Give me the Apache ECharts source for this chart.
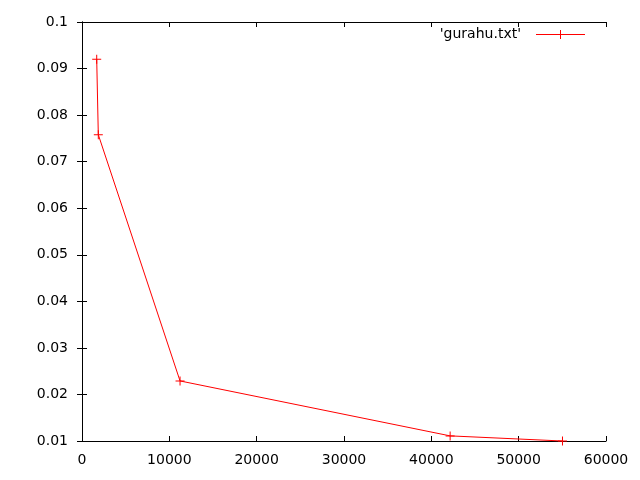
<!DOCTYPE html>
<html>
<head>
<meta charset="utf-8">
<script src="https://cdn.jsdelivr.net/npm/echarts@6/dist/echarts.min.js"></script>
<style>html,body{margin:0;padding:0;background:#fff}#c{width:640px;height:480px}</style>
</head>
<body>
<div id="c"></div>
<script>
const seriesName = "'gurahu.txt'";
const xValues = [1684, 1867, 11226, 42153, 55018];
const yValues = [0.0920, 0.0758, 0.0229, 0.0111, 0.0100];
const xTicks = [0, 10000, 20000, 30000, 40000, 50000, 60000];
const yTicks = [0.01, 0.02, 0.03, 0.04, 0.05, 0.06, 0.07, 0.08, 0.09, 0.1];

const data = xValues.map((x, i) => [x, yValues[i]]);
const plus = 'path://M4,0h1v9h-1zM0,4h9v1h-9z';
const font = 'DejaVu Sans';
const axisCommon = {
  axisLine: {show: true, lineStyle: {color: '#000', width: 1}},
  axisTick: {show: true, inside: true, length: 5, lineStyle: {color: '#000'}},
  splitLine: {show: false}
};
const chart = echarts.init(document.getElementById('c'), null, {renderer: 'canvas'});
chart.setOption({
  animation: false,
  backgroundColor: '#fff',
  grid: {left: 82, right: 34, top: 22, bottom: 39, containLabel: false},
  xAxis: [
    Object.assign({type: 'value', min: xTicks[0], max: xTicks[xTicks.length-1], interval: 10000,
      axisLabel: {color: '#000', fontFamily: font, fontSize: 14, margin: 12,
        formatter: v => String(v)}}, axisCommon),
    Object.assign({type: 'value', position: 'top', min: xTicks[0], max: xTicks[xTicks.length-1], interval: 10000,
      axisLabel: {show: false}}, axisCommon)
  ],
  yAxis: [
    Object.assign({type: 'value', min: yTicks[0], max: yTicks[yTicks.length-1], interval: 0.01,
      axisLabel: {color: '#000', fontFamily: font, fontSize: 14, margin: 14,
        formatter: v => String(+v.toFixed(2))}}, axisCommon),
    Object.assign({type: 'value', position: 'right', min: yTicks[0], max: yTicks[yTicks.length-1], interval: 0.01,
      axisLabel: {show: false}}, axisCommon)
  ],
  series: [{
    name: seriesName,
    type: 'line',
    data: data,
    xAxisIndex: 0, yAxisIndex: 0,
    symbol: plus,
    symbolSize: 9,
    showAllSymbol: true,
    clip: false,
    lineStyle: {color: '#ff0000', width: 1},
    itemStyle: {color: '#ff0000'}
  }],
  graphic: [
    {type: 'text', right: 640 - 521, top: 27,
      style: {text: seriesName, fill: '#000', font: '14px "DejaVu Sans"', textAlign: 'right'}},
    {type: 'line', shape: {x1: 536, y1: 34.5, x2: 585, y2: 34.5},
      style: {stroke: '#ff0000', lineWidth: 1}},
    {type: 'line', shape: {x1: 560.5, y1: 30, x2: 560.5, y2: 39},
      style: {stroke: '#ff0000', lineWidth: 1}}
  ]
});
</script>
</body>
</html>
